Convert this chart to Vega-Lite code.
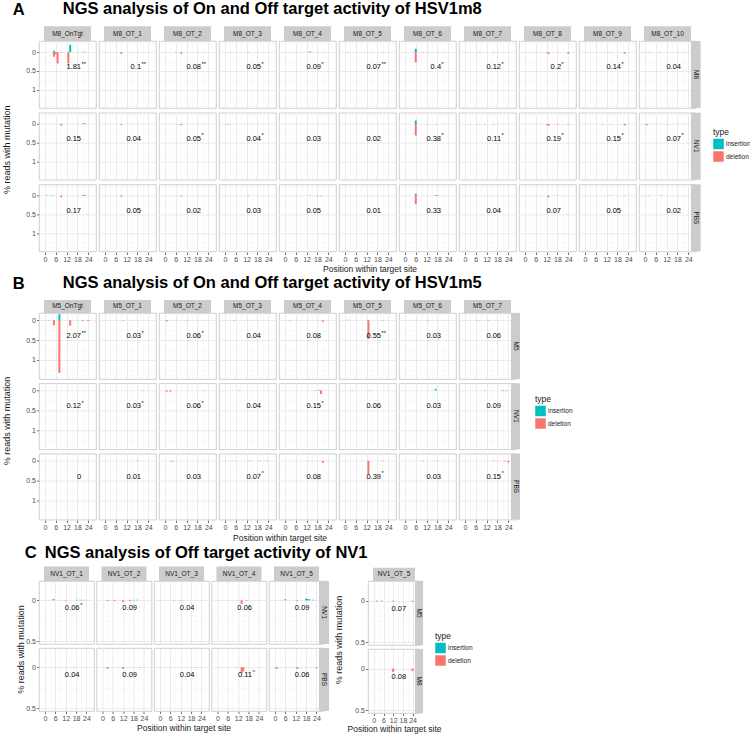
{
"$schema": "https://vega.github.io/schema/vega-lite/v6.json",
"padding": {"left": 2, "top": 1, "right": 4, "bottom": 1},
"datasets": {
"a": [
{"col":"M8_OnTgt","row":"M8","pos":5,"val":0.12,"type":"deletion"},
{"col":"M8_OnTgt","row":"M8","pos":6,"val":0.06,"type":"deletion"},
{"col":"M8_OnTgt","row":"M8","pos":7,"val":0.3,"type":"deletion"},
{"col":"M8_OnTgt","row":"M8","pos":13,"val":0.3,"type":"deletion"},
{"col":"M8_OnTgt","row":"M8","pos":9,"val":0.01,"type":"deletion"},
{"col":"M8_OnTgt","row":"M8","pos":5,"val":-0.04,"type":"insertion"},
{"col":"M8_OnTgt","row":"M8","pos":14,"val":-0.2,"type":"insertion"},
{"col":"M8_OnTgt","row":"M8","pos":21,"val":-0.01,"type":"insertion"},
{"col":"M8_OnTgt","row":"M8","pos":22,"val":-0.01,"type":"insertion"},
{"col":"M8_OT_1","row":"M8","pos":9,"val":0.04,"type":"deletion"},
{"col":"M8_OT_1","row":"M8","pos":14,"val":0.01,"type":"deletion"},
{"col":"M8_OT_2","row":"M8","pos":9,"val":0.04,"type":"deletion"},
{"col":"M8_OT_2","row":"M8","pos":6,"val":-0.01,"type":"insertion"},
{"col":"M8_OT_3","row":"M8","pos":3,"val":0.01,"type":"deletion"},
{"col":"M8_OT_3","row":"M8","pos":13,"val":0.01,"type":"deletion"},
{"col":"M8_OT_4","row":"M8","pos":14,"val":-0.02,"type":"insertion"},
{"col":"M8_OT_4","row":"M8","pos":13,"val":-0.01,"type":"insertion"},
{"col":"M8_OT_5","row":"M8","pos":2,"val":0.01,"type":"deletion"},
{"col":"M8_OT_5","row":"M8","pos":21,"val":0.01,"type":"deletion"},
{"col":"M8_OT_6","row":"M8","pos":6,"val":-0.09,"type":"insertion"},
{"col":"M8_OT_6","row":"M8","pos":6,"val":0.27,"type":"deletion"},
{"col":"M8_OT_6","row":"M8","pos":10,"val":0.01,"type":"deletion"},
{"col":"M8_OT_6","row":"M8","pos":13,"val":0.01,"type":"deletion"},
{"col":"M8_OT_7","row":"M8","pos":8,"val":0.01,"type":"deletion"},
{"col":"M8_OT_7","row":"M8","pos":16,"val":0.01,"type":"deletion"},
{"col":"M8_OT_8","row":"M8","pos":13,"val":0.05,"type":"deletion"},
{"col":"M8_OT_8","row":"M8","pos":24,"val":0.04,"type":"deletion"},
{"col":"M8_OT_8","row":"M8","pos":12,"val":0.01,"type":"deletion"},
{"col":"M8_OT_9","row":"M8","pos":14,"val":0.01,"type":"deletion"},
{"col":"M8_OT_9","row":"M8","pos":22,"val":0.04,"type":"deletion"},
{"col":"M8_OT_10","row":"M8","pos":2,"val":0.01,"type":"deletion"},
{"col":"M8_OT_10","row":"M8","pos":8,"val":0.01,"type":"deletion"},
{"col":"M8_OnTgt","row":"NV1","pos":9,"val":0.04,"type":"deletion"},
{"col":"M8_OnTgt","row":"NV1","pos":21,"val":-0.01,"type":"insertion"},
{"col":"M8_OnTgt","row":"NV1","pos":22,"val":-0.02,"type":"insertion"},
{"col":"M8_OT_1","row":"NV1","pos":9,"val":0.02,"type":"deletion"},
{"col":"M8_OT_2","row":"NV1","pos":9,"val":0.03,"type":"deletion"},
{"col":"M8_OT_2","row":"NV1","pos":7,"val":0.01,"type":"deletion"},
{"col":"M8_OT_3","row":"NV1","pos":1,"val":0.01,"type":"deletion"},
{"col":"M8_OT_3","row":"NV1","pos":2,"val":0.01,"type":"deletion"},
{"col":"M8_OT_5","row":"NV1","pos":5,"val":0.005,"type":"deletion"},
{"col":"M8_OT_6","row":"NV1","pos":6,"val":-0.09,"type":"insertion"},
{"col":"M8_OT_6","row":"NV1","pos":6,"val":0.31,"type":"deletion"},
{"col":"M8_OT_6","row":"NV1","pos":12,"val":0.01,"type":"deletion"},
{"col":"M8_OT_6","row":"NV1","pos":17,"val":0.01,"type":"deletion"},
{"col":"M8_OT_7","row":"NV1","pos":3,"val":0.01,"type":"deletion"},
{"col":"M8_OT_7","row":"NV1","pos":7,"val":0.01,"type":"deletion"},
{"col":"M8_OT_7","row":"NV1","pos":11,"val":0.01,"type":"deletion"},
{"col":"M8_OT_7","row":"NV1","pos":16,"val":0.01,"type":"deletion"},
{"col":"M8_OT_8","row":"NV1","pos":12,"val":0.015,"type":"deletion"},
{"col":"M8_OT_8","row":"NV1","pos":13,"val":0.05,"type":"deletion"},
{"col":"M8_OT_8","row":"NV1","pos":18,"val":0.015,"type":"deletion"},
{"col":"M8_OT_8","row":"NV1","pos":24,"val":0.015,"type":"deletion"},
{"col":"M8_OT_9","row":"NV1","pos":10,"val":0.01,"type":"deletion"},
{"col":"M8_OT_9","row":"NV1","pos":14,"val":0.01,"type":"deletion"},
{"col":"M8_OT_9","row":"NV1","pos":22,"val":0.04,"type":"deletion"},
{"col":"M8_OT_10","row":"NV1","pos":1,"val":0.03,"type":"deletion"},
{"col":"M8_OT_10","row":"NV1","pos":12,"val":0.01,"type":"deletion"},
{"col":"M8_OnTgt","row":"PBS","pos":1,"val":-0.01,"type":"insertion"},
{"col":"M8_OnTgt","row":"PBS","pos":4,"val":-0.01,"type":"insertion"},
{"col":"M8_OnTgt","row":"PBS","pos":9,"val":0.04,"type":"deletion"},
{"col":"M8_OnTgt","row":"PBS","pos":21,"val":-0.015,"type":"insertion"},
{"col":"M8_OnTgt","row":"PBS","pos":22,"val":-0.02,"type":"insertion"},
{"col":"M8_OT_1","row":"PBS","pos":9,"val":0.03,"type":"deletion"},
{"col":"M8_OT_1","row":"PBS","pos":14,"val":0.01,"type":"deletion"},
{"col":"M8_OT_2","row":"PBS","pos":9,"val":0.015,"type":"deletion"},
{"col":"M8_OT_3","row":"PBS","pos":13,"val":0.01,"type":"deletion"},
{"col":"M8_OT_4","row":"PBS","pos":14,"val":-0.01,"type":"insertion"},
{"col":"M8_OT_4","row":"PBS","pos":18,"val":0.015,"type":"deletion"},
{"col":"M8_OT_4","row":"PBS","pos":20,"val":0.015,"type":"deletion"},
{"col":"M8_OT_6","row":"PBS","pos":6,"val":-0.05,"type":"insertion"},
{"col":"M8_OT_6","row":"PBS","pos":6,"val":0.23,"type":"deletion"},
{"col":"M8_OT_6","row":"PBS","pos":17,"val":-0.015,"type":"insertion"},
{"col":"M8_OT_6","row":"PBS","pos":18,"val":-0.015,"type":"insertion"},
{"col":"M8_OT_8","row":"PBS","pos":13,"val":0.045,"type":"deletion"},
{"col":"M8_OT_8","row":"PBS","pos":18,"val":0.01,"type":"deletion"},
{"col":"M8_OT_9","row":"PBS","pos":14,"val":0.01,"type":"deletion"},
{"col":"M8_OT_9","row":"PBS","pos":22,"val":0.01,"type":"deletion"},
{"col":"M8_OT_10","row":"PBS","pos":2,"val":0.01,"type":"deletion"},
{"col":"M8_OT_10","row":"PBS","pos":9,"val":0.01,"type":"deletion"},
{"col":"M8_OnTgt","row":"M8","lab":"1.81","star":"**"},
{"col":"M8_OT_1","row":"M8","lab":"0.1","star":"**"},
{"col":"M8_OT_2","row":"M8","lab":"0.08","star":"**"},
{"col":"M8_OT_3","row":"M8","lab":"0.05","star":"*"},
{"col":"M8_OT_4","row":"M8","lab":"0.09","star":"*"},
{"col":"M8_OT_5","row":"M8","lab":"0.07","star":"**"},
{"col":"M8_OT_6","row":"M8","lab":"0.4","star":"*"},
{"col":"M8_OT_7","row":"M8","lab":"0.12","star":"*"},
{"col":"M8_OT_8","row":"M8","lab":"0.2","star":"*"},
{"col":"M8_OT_9","row":"M8","lab":"0.14","star":"*"},
{"col":"M8_OT_10","row":"M8","lab":"0.04","star":""},
{"col":"M8_OnTgt","row":"NV1","lab":"0.15","star":""},
{"col":"M8_OT_1","row":"NV1","lab":"0.04","star":""},
{"col":"M8_OT_2","row":"NV1","lab":"0.05","star":"*"},
{"col":"M8_OT_3","row":"NV1","lab":"0.04","star":"*"},
{"col":"M8_OT_4","row":"NV1","lab":"0.03","star":""},
{"col":"M8_OT_5","row":"NV1","lab":"0.02","star":""},
{"col":"M8_OT_6","row":"NV1","lab":"0.38","star":"*"},
{"col":"M8_OT_7","row":"NV1","lab":"0.11","star":"*"},
{"col":"M8_OT_8","row":"NV1","lab":"0.19","star":"*"},
{"col":"M8_OT_9","row":"NV1","lab":"0.15","star":"*"},
{"col":"M8_OT_10","row":"NV1","lab":"0.07","star":"*"},
{"col":"M8_OnTgt","row":"PBS","lab":"0.17","star":""},
{"col":"M8_OT_1","row":"PBS","lab":"0.05","star":""},
{"col":"M8_OT_2","row":"PBS","lab":"0.02","star":""},
{"col":"M8_OT_3","row":"PBS","lab":"0.03","star":""},
{"col":"M8_OT_4","row":"PBS","lab":"0.05","star":""},
{"col":"M8_OT_5","row":"PBS","lab":"0.01","star":""},
{"col":"M8_OT_6","row":"PBS","lab":"0.33","star":""},
{"col":"M8_OT_7","row":"PBS","lab":"0.04","star":""},
{"col":"M8_OT_8","row":"PBS","lab":"0.07","star":""},
{"col":"M8_OT_9","row":"PBS","lab":"0.05","star":""},
{"col":"M8_OT_10","row":"PBS","lab":"0.02","star":""}
],
"b": [
{"col":"M5_OnTgt","row":"M5","pos":5,"val":0.13,"type":"deletion"},
{"col":"M5_OnTgt","row":"M5","pos":8,"val":1.33,"type":"deletion"},
{"col":"M5_OnTgt","row":"M5","pos":8,"val":-0.15,"type":"insertion"},
{"col":"M5_OnTgt","row":"M5","pos":14,"val":0.14,"type":"deletion"},
{"col":"M5_OnTgt","row":"M5","pos":21,"val":0.02,"type":"deletion"},
{"col":"M5_OnTgt","row":"M5","pos":24,"val":0.02,"type":"deletion"},
{"col":"M5_OnTgt","row":"M5","pos":2,"val":0.01,"type":"deletion"},
{"col":"M5_OT_1","row":"M5","pos":10,"val":0.01,"type":"deletion"},
{"col":"M5_OT_2","row":"M5","pos":1,"val":0.03,"type":"deletion"},
{"col":"M5_OT_2","row":"M5","pos":12,"val":0.01,"type":"deletion"},
{"col":"M5_OT_3","row":"M5","pos":5,"val":0.01,"type":"deletion"},
{"col":"M5_OT_4","row":"M5","pos":3,"val":0.01,"type":"deletion"},
{"col":"M5_OT_4","row":"M5","pos":21,"val":0.04,"type":"deletion"},
{"col":"M5_OT_5","row":"M5","pos":13,"val":0.47,"type":"deletion"},
{"col":"M5_OT_5","row":"M5","pos":2,"val":-0.01,"type":"insertion"},
{"col":"M5_OT_5","row":"M5","pos":21,"val":0.01,"type":"deletion"},
{"col":"M5_OT_6","row":"M5","pos":13,"val":0.01,"type":"deletion"},
{"col":"M5_OT_7","row":"M5","pos":7,"val":0.01,"type":"deletion"},
{"col":"M5_OT_7","row":"M5","pos":13,"val":0.01,"type":"deletion"},
{"col":"M5_OT_1","row":"NV1","pos":21,"val":0.01,"type":"deletion"},
{"col":"M5_OT_2","row":"NV1","pos":1,"val":0.03,"type":"deletion"},
{"col":"M5_OT_2","row":"NV1","pos":3,"val":0.03,"type":"deletion"},
{"col":"M5_OT_2","row":"NV1","pos":22,"val":0.01,"type":"deletion"},
{"col":"M5_OT_3","row":"NV1","pos":8,"val":0.01,"type":"deletion"},
{"col":"M5_OT_4","row":"NV1","pos":17,"val":0.01,"type":"deletion"},
{"col":"M5_OT_4","row":"NV1","pos":19,"val":-0.015,"type":"insertion"},
{"col":"M5_OT_4","row":"NV1","pos":20,"val":0.09,"type":"deletion"},
{"col":"M5_OT_5","row":"NV1","pos":4,"val":0.01,"type":"deletion"},
{"col":"M5_OT_5","row":"NV1","pos":14,"val":0.01,"type":"deletion"},
{"col":"M5_OT_6","row":"NV1","pos":17,"val":-0.04,"type":"insertion"},
{"col":"M5_OT_7","row":"NV1","pos":11,"val":0.01,"type":"deletion"},
{"col":"M5_OT_7","row":"NV1","pos":21,"val":0.015,"type":"deletion"},
{"col":"M5_OT_7","row":"NV1","pos":23,"val":0.015,"type":"deletion"},
{"col":"M5_OT_1","row":"PBS","pos":18,"val":0.01,"type":"deletion"},
{"col":"M5_OT_2","row":"PBS","pos":4,"val":0.02,"type":"deletion"},
{"col":"M5_OT_3","row":"PBS","pos":4,"val":0.01,"type":"deletion"},
{"col":"M5_OT_3","row":"PBS","pos":14,"val":0.01,"type":"deletion"},
{"col":"M5_OT_3","row":"PBS","pos":19,"val":0.01,"type":"deletion"},
{"col":"M5_OT_3","row":"PBS","pos":23,"val":0.01,"type":"deletion"},
{"col":"M5_OT_4","row":"PBS","pos":21,"val":0.05,"type":"deletion"},
{"col":"M5_OT_4","row":"PBS","pos":15,"val":0.01,"type":"deletion"},
{"col":"M5_OT_5","row":"PBS","pos":13,"val":0.34,"type":"deletion"},
{"col":"M5_OT_5","row":"PBS","pos":21,"val":0.01,"type":"deletion"},
{"col":"M5_OT_6","row":"PBS","pos":10,"val":0.01,"type":"deletion"},
{"col":"M5_OT_6","row":"PBS","pos":18,"val":0.01,"type":"deletion"},
{"col":"M5_OT_7","row":"PBS","pos":16,"val":-0.01,"type":"insertion"},
{"col":"M5_OT_7","row":"PBS","pos":22,"val":0.015,"type":"deletion"},
{"col":"M5_OT_7","row":"PBS","pos":24,"val":0.04,"type":"deletion"},
{"col":"M5_OnTgt","row":"M5","lab":"2.07","star":"**"},
{"col":"M5_OT_1","row":"M5","lab":"0.03","star":"*"},
{"col":"M5_OT_2","row":"M5","lab":"0.06","star":"*"},
{"col":"M5_OT_3","row":"M5","lab":"0.04","star":""},
{"col":"M5_OT_4","row":"M5","lab":"0.08","star":""},
{"col":"M5_OT_5","row":"M5","lab":"0.55","star":"**"},
{"col":"M5_OT_6","row":"M5","lab":"0.03","star":""},
{"col":"M5_OT_7","row":"M5","lab":"0.06","star":""},
{"col":"M5_OnTgt","row":"NV1","lab":"0.12","star":"*"},
{"col":"M5_OT_1","row":"NV1","lab":"0.03","star":"*"},
{"col":"M5_OT_2","row":"NV1","lab":"0.06","star":"*"},
{"col":"M5_OT_3","row":"NV1","lab":"0.04","star":""},
{"col":"M5_OT_4","row":"NV1","lab":"0.15","star":"*"},
{"col":"M5_OT_5","row":"NV1","lab":"0.06","star":""},
{"col":"M5_OT_6","row":"NV1","lab":"0.03","star":""},
{"col":"M5_OT_7","row":"NV1","lab":"0.09","star":""},
{"col":"M5_OnTgt","row":"PBS","lab":"0","star":""},
{"col":"M5_OT_1","row":"PBS","lab":"0.01","star":""},
{"col":"M5_OT_2","row":"PBS","lab":"0.03","star":""},
{"col":"M5_OT_3","row":"PBS","lab":"0.07","star":"^"},
{"col":"M5_OT_4","row":"PBS","lab":"0.08","star":""},
{"col":"M5_OT_5","row":"PBS","lab":"0.39","star":"*"},
{"col":"M5_OT_6","row":"PBS","lab":"0.03","star":""},
{"col":"M5_OT_7","row":"PBS","lab":"0.15","star":"^"}
],
"cl": [
{"col":"NV1_OT_1","row":"NV1","pos":5,"val":-0.015,"type":"insertion"},
{"col":"NV1_OT_1","row":"NV1","pos":12,"val":0.005,"type":"deletion"},
{"col":"NV1_OT_1","row":"NV1","pos":19,"val":-0.006,"type":"insertion"},
{"col":"NV1_OT_1","row":"NV1","pos":21,"val":-0.006,"type":"insertion"},
{"col":"NV1_OT_1","row":"NV1","pos":23,"val":-0.006,"type":"insertion"},
{"col":"NV1_OT_2","row":"NV1","pos":3,"val":0.01,"type":"deletion"},
{"col":"NV1_OT_2","row":"NV1","pos":7,"val":0.01,"type":"deletion"},
{"col":"NV1_OT_2","row":"NV1","pos":12,"val":0.02,"type":"deletion"},
{"col":"NV1_OT_2","row":"NV1","pos":16,"val":0.01,"type":"deletion"},
{"col":"NV1_OT_2","row":"NV1","pos":18,"val":-0.006,"type":"insertion"},
{"col":"NV1_OT_2","row":"NV1","pos":20,"val":-0.006,"type":"insertion"},
{"col":"NV1_OT_3","row":"NV1","pos":8,"val":0.004,"type":"deletion"},
{"col":"NV1_OT_3","row":"NV1","pos":12,"val":-0.004,"type":"insertion"},
{"col":"NV1_OT_4","row":"NV1","pos":14,"val":0.045,"type":"deletion"},
{"col":"NV1_OT_4","row":"NV1","pos":17,"val":0.005,"type":"deletion"},
{"col":"NV1_OT_5","row":"NV1","pos":6,"val":-0.012,"type":"insertion"},
{"col":"NV1_OT_5","row":"NV1","pos":13,"val":0.01,"type":"deletion"},
{"col":"NV1_OT_5","row":"NV1","pos":18,"val":-0.02,"type":"insertion"},
{"col":"NV1_OT_5","row":"NV1","pos":19,"val":-0.015,"type":"insertion"},
{"col":"NV1_OT_5","row":"NV1","pos":20,"val":-0.012,"type":"insertion"},
{"col":"NV1_OT_5","row":"NV1","pos":22,"val":-0.006,"type":"insertion"},
{"col":"NV1_OT_1","row":"PBS","pos":17,"val":0.005,"type":"deletion"},
{"col":"NV1_OT_2","row":"PBS","pos":3,"val":0.02,"type":"deletion"},
{"col":"NV1_OT_2","row":"PBS","pos":12,"val":0.02,"type":"deletion"},
{"col":"NV1_OT_2","row":"PBS","pos":22,"val":0.006,"type":"deletion"},
{"col":"NV1_OT_3","row":"PBS","pos":21,"val":0.005,"type":"deletion"},
{"col":"NV1_OT_4","row":"PBS","pos":14,"val":0.07,"type":"deletion"},
{"col":"NV1_OT_4","row":"PBS","pos":15,"val":0.05,"type":"deletion"},
{"col":"NV1_OT_4","row":"PBS","pos":11,"val":0.006,"type":"deletion"},
{"col":"NV1_OT_5","row":"PBS","pos":1,"val":0.02,"type":"deletion"},
{"col":"NV1_OT_5","row":"PBS","pos":13,"val":0.02,"type":"deletion"},
{"col":"NV1_OT_5","row":"PBS","pos":24,"val":0.012,"type":"deletion"},
{"col":"NV1_OT_1","row":"NV1","lab":"0.06","star":"^"},
{"col":"NV1_OT_2","row":"NV1","lab":"0.09","star":""},
{"col":"NV1_OT_3","row":"NV1","lab":"0.04","star":""},
{"col":"NV1_OT_4","row":"NV1","lab":"0.06","star":""},
{"col":"NV1_OT_5","row":"NV1","lab":"0.09","star":""},
{"col":"NV1_OT_1","row":"PBS","lab":"0.04","star":""},
{"col":"NV1_OT_2","row":"PBS","lab":"0.09","star":""},
{"col":"NV1_OT_3","row":"PBS","lab":"0.04","star":""},
{"col":"NV1_OT_4","row":"PBS","lab":"0.11","star":"^"},
{"col":"NV1_OT_5","row":"PBS","lab":"0.06","star":""}
],
"cr": [
{"col":"NV1_OT_5","row":"M5","pos":2,"val":0.01,"type":"deletion"},
{"col":"NV1_OT_5","row":"M5","pos":5,"val":0.01,"type":"deletion"},
{"col":"NV1_OT_5","row":"M5","pos":12,"val":0.01,"type":"deletion"},
{"col":"NV1_OT_5","row":"M5","pos":24,"val":0.012,"type":"deletion"},
{"col":"NV1_OT_5","row":"M8","pos":12,"val":0.04,"type":"deletion"},
{"col":"NV1_OT_5","row":"M8","pos":24,"val":0.03,"type":"deletion"},
{"col":"NV1_OT_5","row":"M5","lab":"0.07","star":""},
{"col":"NV1_OT_5","row":"M8","lab":"0.08","star":""}
]
},
"vconcat": [
{
"title": {"text": "A", "anchor": "start", "dx": 10, "offset": -17},
"vconcat": [
{
"title": {"text": "NGS analysis of On and Off target activity of HSV1m8", "anchor": "start", "dx": 60, "offset": 8},
"vconcat": [
{
"title": {"text": "% reads with mutation", "orient": "left", "anchor": "middle", "offset": 14, "fontSize": 9, "fontWeight": "normal", "color": "#1A1A1A"},
"vconcat": [
{
"data": {"name": "a"},
"bounds": "flush",
"spacing": {"row": 4.7, "column": 3},
"facet": {
"row": {"field": "row", "type": "nominal", "sort": ["M8","NV1","PBS"], "header": {"title": null, "labels": false}},
"column": {"field": "col", "type": "nominal", "sort": ["M8_OnTgt","M8_OT_1","M8_OT_2","M8_OT_3","M8_OT_4","M8_OT_5","M8_OT_6","M8_OT_7","M8_OT_8","M8_OT_9","M8_OT_10"], "header": {"title": "Position within target site", "labels": false, "titleOrient": "bottom", "titlePadding": -8, "titleFont": "Liberation Sans Narrow, Liberation Sans", "titleFontSize": 8.5}}
},
"spec": {
"width": 57, "height": 67,
"layer": [
{"transform": [{"filter": "isValid(datum.lab) && datum.row == 'M8'"}],
 "mark": {"type": "rect", "fill": "#CCCCCC"},
 "encoding": {"x": {"datum": -0.5, "scale": {"domain": [-0.5, 25.5], "nice": false, "zero": false}}, "x2": {"datum": 25.5}, "y": {"datum": -0.3, "scale": {"domain": [-0.3, 1.49], "reverse": true, "nice": false, "zero": false}}, "y2": {"datum": -0.693}}},
{"transform": [{"filter": "isValid(datum.lab) && datum.row == 'M8'"}],
 "mark": {"type": "text", "fontSize": 6.5, "color": "#1A1A1A", "baseline": "middle"},
 "encoding": {"x": {"datum": 12.5, "scale": {"domain": [-0.5, 25.5], "nice": false, "zero": false}}, "y": {"datum": -0.4965, "scale": {"domain": [-0.3, 1.49], "reverse": true, "nice": false, "zero": false}}, "text": {"field": "col"}}},
{"transform": [{"filter": "isValid(datum.lab) && datum.col == 'M8_OT_10'"}],
 "mark": {"type": "rect", "fill": "#CCCCCC"},
 "encoding": {"x": {"datum": 25.5, "scale": {"domain": [-0.5, 25.5], "nice": false, "zero": false}}, "x2": {"datum": 30.84}, "y": {"datum": -0.3, "scale": {"domain": [-0.3, 1.49], "reverse": true, "nice": false, "zero": false}}, "y2": {"datum": 1.49}}},
{"transform": [{"filter": "isValid(datum.lab) && datum.col == 'M8_OT_10'"}],
 "mark": {"type": "text", "fontSize": 6.5, "color": "#1A1A1A", "baseline": "middle", "angle": 90},
 "encoding": {"x": {"datum": 28.17, "scale": {"domain": [-0.5, 25.5], "nice": false, "zero": false}}, "y": {"datum": 0.595, "scale": {"domain": [-0.3, 1.49], "reverse": true, "nice": false, "zero": false}}, "text": {"field": "row"}}},
{"transform": [{"filter": "isValid(datum.pos)"}],
 "mark": {"type": "bar", "size": 2},
 "encoding": {
  "x": {"field": "pos", "type": "quantitative", "scale": {"domain": [-0.5, 25.5], "nice": false, "zero": false}, "axis": {"title": null, "tickCount": 20, "labelOverlap": false, "labelFlush": false, "labelBound": false, "values": [0,3,6,9,12,15,18,21,24], "labelExpr": "datum.value % 6 == 0 ? datum.label : ''", "tickOpacity": {"condition": {"test": "datum.value % 6 != 0", "value": 0}, "value": 1}, "gridColor": {"condition": {"test": "datum.value % 6 != 0", "value": "#F2F2F2"}, "value": "#E6E6E6"}, "gridWidth": {"condition": {"test": "datum.value % 6 != 0", "value": 0.5}, "value": 0.8}}},
  "y": {"field": "val", "type": "quantitative", "scale": {"domain": [-0.3, 1.49], "reverse": true, "nice": false, "zero": false}, "axis": {"title": null, "tickCount": 20, "labelOverlap": false, "labelFlush": false, "labelBound": false, "values": [-0.25,0,0.25,0.5,0.75,1,1.25], "format": "~g", "labelExpr": "datum.value % 0.5 == 0 ? datum.label : ''", "tickOpacity": {"condition": {"test": "datum.value % 0.5 != 0", "value": 0}, "value": 1}, "gridColor": {"condition": {"test": "datum.value % 0.5 != 0", "value": "#F2F2F2"}, "value": "#E6E6E6"}, "gridWidth": {"condition": {"test": "datum.value % 0.5 != 0", "value": 0.5}, "value": 0.8}}},
  "y2": {"datum": 0},
  "color": {"field": "type", "type": "nominal", "scale": {"domain": ["insertion","deletion"], "range": ["#00BFC4","#F8766D"]}, "legend": {"title": "type", "orient": "none", "legendX": 674, "legendY": 87}}
 }},
{"transform": [{"filter": "isValid(datum.lab)"}],
 "mark": {"type": "text", "align": "right", "baseline": "middle", "fontSize": 7.5, "color": "#000000"},
 "encoding": {"x": {"datum": 20, "scale": {"domain": [-0.5, 25.5], "nice": false, "zero": false}}, "y": {"datum": 0.4, "scale": {"domain": [-0.3, 1.49], "reverse": true, "nice": false, "zero": false}}, "text": {"field": "lab"}}},
{"transform": [{"filter": "isValid(datum.lab)"}],
 "mark": {"type": "text", "align": "left", "baseline": "middle", "fontSize": 5.5, "dy": -3.5, "dx": 0.5, "color": "#000000"},
 "encoding": {"x": {"datum": 20, "scale": {"domain": [-0.5, 25.5], "nice": false, "zero": false}}, "y": {"datum": 0.4, "scale": {"domain": [-0.3, 1.49], "reverse": true, "nice": false, "zero": false}}, "text": {"field": "star"}}}
]
}
}
]
}
]
}
]
},
{
"title": {"text": "B", "anchor": "start", "dx": 10, "offset": -17},
"vconcat": [
{
"title": {"text": "NGS analysis of On and Off target activity of HSV1m5", "anchor": "start", "dx": 60, "offset": 8},
"vconcat": [
{
"title": {"text": "% reads with mutation", "orient": "left", "anchor": "middle", "offset": 14, "fontSize": 9, "fontWeight": "normal", "color": "#1A1A1A"},
"vconcat": [
{
"data": {"name": "b"},
"bounds": "flush",
"spacing": {"row": 4.3, "column": 3},
"facet": {
"row": {"field": "row", "type": "nominal", "sort": ["M5","NV1","PBS"], "header": {"title": null, "labels": false}},
"column": {"field": "col", "type": "nominal", "sort": ["M5_OnTgt","M5_OT_1","M5_OT_2","M5_OT_3","M5_OT_4","M5_OT_5","M5_OT_6","M5_OT_7"], "header": {"title": "Position within target site", "labels": false, "titleOrient": "bottom", "titlePadding": -7, "titleFont": "Liberation Sans Narrow, Liberation Sans", "titleFontSize": 8.5}}
},
"spec": {
"width": 57, "height": 66,
"layer": [
{"transform": [{"filter": "isValid(datum.lab) && datum.row == 'M5'"}],
 "mark": {"type": "rect", "fill": "#CCCCCC"},
 "encoding": {"x": {"datum": -0.5, "scale": {"domain": [-0.5, 25.5], "nice": false, "zero": false}}, "x2": {"datum": 25.5}, "y": {"datum": -0.18, "scale": {"domain": [-0.18, 1.48], "reverse": true, "nice": false, "zero": false}}, "y2": {"datum": -0.507}}},
{"transform": [{"filter": "isValid(datum.lab) && datum.row == 'M5'"}],
 "mark": {"type": "text", "fontSize": 6.5, "color": "#1A1A1A", "baseline": "middle"},
 "encoding": {"x": {"datum": 12.5, "scale": {"domain": [-0.5, 25.5], "nice": false, "zero": false}}, "y": {"datum": -0.3435, "scale": {"domain": [-0.18, 1.48], "reverse": true, "nice": false, "zero": false}}, "text": {"field": "col"}}},
{"transform": [{"filter": "isValid(datum.lab) && datum.col == 'M5_OT_7'"}],
 "mark": {"type": "rect", "fill": "#CCCCCC"},
 "encoding": {"x": {"datum": 25.5, "scale": {"domain": [-0.5, 25.5], "nice": false, "zero": false}}, "x2": {"datum": 30.5}, "y": {"datum": -0.18, "scale": {"domain": [-0.18, 1.48], "reverse": true, "nice": false, "zero": false}}, "y2": {"datum": 1.48}}},
{"transform": [{"filter": "isValid(datum.lab) && datum.col == 'M5_OT_7'"}],
 "mark": {"type": "text", "fontSize": 6.5, "color": "#1A1A1A", "baseline": "middle", "angle": 90},
 "encoding": {"x": {"datum": 28, "scale": {"domain": [-0.5, 25.5], "nice": false, "zero": false}}, "y": {"datum": 0.65, "scale": {"domain": [-0.18, 1.48], "reverse": true, "nice": false, "zero": false}}, "text": {"field": "row"}}},
{"transform": [{"filter": "isValid(datum.pos)"}],
 "mark": {"type": "bar", "size": 2},
 "encoding": {
  "x": {"field": "pos", "type": "quantitative", "scale": {"domain": [-0.5, 25.5], "nice": false, "zero": false}, "axis": {"title": null, "tickCount": 20, "labelOverlap": false, "labelFlush": false, "labelBound": false, "values": [0,3,6,9,12,15,18,21,24], "labelExpr": "datum.value % 6 == 0 ? datum.label : ''", "tickOpacity": {"condition": {"test": "datum.value % 6 != 0", "value": 0}, "value": 1}, "gridColor": {"condition": {"test": "datum.value % 6 != 0", "value": "#F2F2F2"}, "value": "#E6E6E6"}, "gridWidth": {"condition": {"test": "datum.value % 6 != 0", "value": 0.5}, "value": 0.8}}},
  "y": {"field": "val", "type": "quantitative", "scale": {"domain": [-0.18, 1.48], "reverse": true, "nice": false, "zero": false}, "axis": {"title": null, "tickCount": 20, "labelOverlap": false, "labelFlush": false, "labelBound": false, "values": [0,0.25,0.5,0.75,1,1.25], "format": "~g", "labelExpr": "datum.value % 0.5 == 0 ? datum.label : ''", "tickOpacity": {"condition": {"test": "datum.value % 0.5 != 0", "value": 0}, "value": 1}, "gridColor": {"condition": {"test": "datum.value % 0.5 != 0", "value": "#F2F2F2"}, "value": "#E6E6E6"}, "gridWidth": {"condition": {"test": "datum.value % 0.5 != 0", "value": 0.5}, "value": 0.8}}},
  "y2": {"datum": 0},
  "color": {"field": "type", "type": "nominal", "scale": {"domain": ["insertion","deletion"], "range": ["#00BFC4","#F8766D"]}, "legend": {"title": "type", "orient": "none", "legendX": 496, "legendY": 82}}
 }},
{"transform": [{"filter": "isValid(datum.lab)"}],
 "mark": {"type": "text", "align": "right", "baseline": "middle", "fontSize": 7.5, "color": "#000000"},
 "encoding": {"x": {"datum": 20, "scale": {"domain": [-0.5, 25.5], "nice": false, "zero": false}}, "y": {"datum": 0.4, "scale": {"domain": [-0.18, 1.48], "reverse": true, "nice": false, "zero": false}}, "text": {"field": "lab"}}},
{"transform": [{"filter": "isValid(datum.lab)"}],
 "mark": {"type": "text", "align": "left", "baseline": "middle", "fontSize": 5.5, "dy": -3.5, "dx": 0.5, "color": "#000000"},
 "encoding": {"x": {"datum": 20, "scale": {"domain": [-0.5, 25.5], "nice": false, "zero": false}}, "y": {"datum": 0.4, "scale": {"domain": [-0.18, 1.48], "reverse": true, "nice": false, "zero": false}}, "text": {"field": "star"}}}
]
}
}
]
}
]
}
]
},
{
"title": {"text": "C", "anchor": "start", "dx": 8, "offset": -17},
"vconcat": [
{
"title": {"text": "NGS analysis of Off target activity of NV1", "anchor": "start", "dx": 28, "offset": 5},
"vconcat": [
{
"title": {"text": "% reads with mutation", "orient": "left", "anchor": "middle", "offset": 0, "fontSize": 9, "fontWeight": "normal", "color": "#1A1A1A"},
"vconcat": [
{
"spacing": 4,
"resolve": {"scale": {"color": "independent"}, "legend": {"color": "independent"}},
"hconcat": [
{
"data": {"name": "cl"},
"bounds": "flush",
"spacing": {"row": 4, "column": 2.5},
"facet": {
"row": {"field": "row", "type": "nominal", "sort": ["NV1","PBS"], "header": {"title": null, "labels": false}},
"column": {"field": "col", "type": "nominal", "sort": ["NV1_OT_1","NV1_OT_2","NV1_OT_3","NV1_OT_4","NV1_OT_5"], "header": {"title": "Position within target site", "labels": false, "titleOrient": "bottom", "titlePadding": -8, "titleFont": "Liberation Sans Narrow, Liberation Sans", "titleFontSize": 8.5}}
},
"spec": {
"width": 55, "height": 63,
"layer": [
{"transform": [{"filter": "isValid(datum.lab) && datum.row == 'NV1'"}],
 "mark": {"type": "rect", "fill": "#CCCCCC"},
 "encoding": {"x": {"datum": -0.5, "scale": {"domain": [-0.5, 25.5], "nice": false, "zero": false}}, "x2": {"datum": 25.5}, "y": {"datum": -0.235, "scale": {"domain": [-0.235, 0.533], "reverse": true, "nice": false, "zero": false}}, "y2": {"datum": -0.412}}},
{"transform": [{"filter": "isValid(datum.lab) && datum.row == 'NV1'"}],
 "mark": {"type": "text", "fontSize": 6.5, "color": "#1A1A1A", "baseline": "middle"},
 "encoding": {"x": {"datum": 12.5, "scale": {"domain": [-0.5, 25.5], "nice": false, "zero": false}}, "y": {"datum": -0.3235, "scale": {"domain": [-0.235, 0.533], "reverse": true, "nice": false, "zero": false}}, "text": {"field": "col"}}},
{"transform": [{"filter": "isValid(datum.lab) && datum.col == 'NV1_OT_5'"}],
 "mark": {"type": "rect", "fill": "#CCCCCC"},
 "encoding": {"x": {"datum": 25.5, "scale": {"domain": [-0.5, 25.5], "nice": false, "zero": false}}, "x2": {"datum": 31.3}, "y": {"datum": -0.235, "scale": {"domain": [-0.235, 0.533], "reverse": true, "nice": false, "zero": false}}, "y2": {"datum": 0.533}}},
{"transform": [{"filter": "isValid(datum.lab) && datum.col == 'NV1_OT_5'"}],
 "mark": {"type": "text", "fontSize": 6.5, "color": "#1A1A1A", "baseline": "middle", "angle": 90},
 "encoding": {"x": {"datum": 28.4, "scale": {"domain": [-0.5, 25.5], "nice": false, "zero": false}}, "y": {"datum": 0.149, "scale": {"domain": [-0.235, 0.533], "reverse": true, "nice": false, "zero": false}}, "text": {"field": "row"}}},
{"transform": [{"filter": "isValid(datum.pos)"}],
 "mark": {"type": "bar", "size": 2},
 "encoding": {
  "x": {"field": "pos", "type": "quantitative", "scale": {"domain": [-0.5, 25.5], "nice": false, "zero": false}, "axis": {"title": null, "tickCount": 20, "labelOverlap": false, "labelFlush": false, "labelBound": false, "values": [0,3,6,9,12,15,18,21,24], "labelExpr": "datum.value % 6 == 0 ? datum.label : ''", "tickOpacity": {"condition": {"test": "datum.value % 6 != 0", "value": 0}, "value": 1}, "gridColor": {"condition": {"test": "datum.value % 6 != 0", "value": "#F2F2F2"}, "value": "#E6E6E6"}, "gridWidth": {"condition": {"test": "datum.value % 6 != 0", "value": 0.5}, "value": 0.8}}},
  "y": {"field": "val", "type": "quantitative", "scale": {"domain": [-0.235, 0.533], "reverse": true, "nice": false, "zero": false}, "axis": {"title": null, "tickCount": 20, "labelOverlap": false, "labelFlush": false, "labelBound": false, "values": [0,0.25,0.5], "format": "~g", "labelExpr": "datum.value % 0.5 == 0 ? datum.label : ''", "tickOpacity": {"condition": {"test": "datum.value % 0.5 != 0", "value": 0}, "value": 1}, "gridColor": {"condition": {"test": "datum.value % 0.5 != 0", "value": "#F2F2F2"}, "value": "#E6E6E6"}, "gridWidth": {"condition": {"test": "datum.value % 0.5 != 0", "value": 0.5}, "value": 0.8}}},
  "y2": {"datum": 0},
  "color": {"field": "type", "type": "nominal", "scale": {"domain": ["insertion","deletion"], "range": ["#00BFC4","#F8766D"]}, "legend": null}
 }},
{"transform": [{"filter": "isValid(datum.lab)"}],
 "mark": {"type": "text", "align": "right", "baseline": "middle", "fontSize": 7.5, "color": "#000000"},
 "encoding": {"x": {"datum": 20, "scale": {"domain": [-0.5, 25.5], "nice": false, "zero": false}}, "y": {"datum": 0.1, "scale": {"domain": [-0.235, 0.533], "reverse": true, "nice": false, "zero": false}}, "text": {"field": "lab"}}},
{"transform": [{"filter": "isValid(datum.lab)"}],
 "mark": {"type": "text", "align": "left", "baseline": "middle", "fontSize": 5.5, "dy": -3.5, "dx": 0.5, "color": "#000000"},
 "encoding": {"x": {"datum": 20, "scale": {"domain": [-0.5, 25.5], "nice": false, "zero": false}}, "y": {"datum": 0.1, "scale": {"domain": [-0.235, 0.533], "reverse": true, "nice": false, "zero": false}}, "text": {"field": "star"}}}
]
}
},
{
"data": {"name": "cr"},
"bounds": "flush",
"spacing": {"row": 4, "column": 2.5},
"facet": {
"row": {"field": "row", "type": "nominal", "sort": ["M5","M8"], "header": {"title": "% reads with mutation", "labels": false, "titleOrient": "left", "titlePadding": 0, "titleFont": "Liberation Sans", "titleFontSize": 9}},
"column": {"field": "col", "type": "nominal", "header": {"title": null, "labels": false}}
},
"spec": {
"width": 52, "height": 64,
"layer": [
{"transform": [{"filter": "isValid(datum.lab) && datum.row == 'M5'"}],
 "mark": {"type": "rect", "fill": "#CCCCCC"},
 "encoding": {"x": {"datum": -0.5, "scale": {"domain": [-0.5, 25.5], "nice": false, "zero": false}}, "x2": {"datum": 25.5}, "y": {"datum": -0.235, "scale": {"domain": [-0.235, 0.533], "reverse": true, "nice": false, "zero": false}}, "y2": {"datum": -0.395}}},
{"transform": [{"filter": "isValid(datum.lab) && datum.row == 'M5'"}],
 "mark": {"type": "text", "fontSize": 6.5, "color": "#1A1A1A", "baseline": "middle"},
 "encoding": {"x": {"datum": 12.5, "scale": {"domain": [-0.5, 25.5], "nice": false, "zero": false}}, "y": {"datum": -0.315, "scale": {"domain": [-0.235, 0.533], "reverse": true, "nice": false, "zero": false}}, "text": {"field": "col"}}},
{"transform": [{"filter": "isValid(datum.lab)"}],
 "mark": {"type": "rect", "fill": "#CCCCCC"},
 "encoding": {"x": {"datum": 25.5, "scale": {"domain": [-0.5, 25.5], "nice": false, "zero": false}}, "x2": {"datum": 30.5}, "y": {"datum": -0.235, "scale": {"domain": [-0.235, 0.533], "reverse": true, "nice": false, "zero": false}}, "y2": {"datum": 0.533}}},
{"transform": [{"filter": "isValid(datum.lab)"}],
 "mark": {"type": "text", "fontSize": 6.5, "color": "#1A1A1A", "baseline": "middle", "angle": 90},
 "encoding": {"x": {"datum": 28, "scale": {"domain": [-0.5, 25.5], "nice": false, "zero": false}}, "y": {"datum": 0.149, "scale": {"domain": [-0.235, 0.533], "reverse": true, "nice": false, "zero": false}}, "text": {"field": "row"}}},
{"transform": [{"filter": "isValid(datum.pos)"}],
 "mark": {"type": "bar", "size": 2},
 "encoding": {
  "x": {"field": "pos", "type": "quantitative", "scale": {"domain": [-0.5, 25.5], "nice": false, "zero": false}, "axis": {"title": "Position within target site", "titleFont": "Liberation Sans Narrow, Liberation Sans", "titleFontSize": 8.5, "titleFontWeight": "normal", "titleColor": "#1A1A1A", "titlePadding": 1, "tickCount": 20, "labelOverlap": false, "labelFlush": false, "labelBound": false, "values": [0,3,6,9,12,15,18,21,24], "labelExpr": "datum.value % 6 == 0 ? datum.label : ''", "tickOpacity": {"condition": {"test": "datum.value % 6 != 0", "value": 0}, "value": 1}, "gridColor": {"condition": {"test": "datum.value % 6 != 0", "value": "#F2F2F2"}, "value": "#E6E6E6"}, "gridWidth": {"condition": {"test": "datum.value % 6 != 0", "value": 0.5}, "value": 0.8}}},
  "y": {"field": "val", "type": "quantitative", "scale": {"domain": [-0.235, 0.533], "reverse": true, "nice": false, "zero": false}, "axis": {"title": null, "tickCount": 20, "labelOverlap": false, "labelFlush": false, "labelBound": false, "values": [0,0.25,0.5], "format": "~g", "labelExpr": "datum.value % 0.5 == 0 ? datum.label : ''", "tickOpacity": {"condition": {"test": "datum.value % 0.5 != 0", "value": 0}, "value": 1}, "gridColor": {"condition": {"test": "datum.value % 0.5 != 0", "value": "#F2F2F2"}, "value": "#E6E6E6"}, "gridWidth": {"condition": {"test": "datum.value % 0.5 != 0", "value": 0.5}, "value": 0.8}}},
  "y2": {"datum": 0},
  "color": {"field": "type", "type": "nominal", "scale": {"domain": ["insertion","deletion"], "range": ["#00BFC4","#F8766D"]}, "legend": {"title": "type", "orient": "none", "legendX": 67, "legendY": 51}}
 }},
{"transform": [{"filter": "isValid(datum.lab)"}],
 "mark": {"type": "text", "align": "right", "baseline": "middle", "fontSize": 7.5, "color": "#000000"},
 "encoding": {"x": {"datum": 20, "scale": {"domain": [-0.5, 25.5], "nice": false, "zero": false}}, "y": {"datum": 0.1, "scale": {"domain": [-0.235, 0.533], "reverse": true, "nice": false, "zero": false}}, "text": {"field": "lab"}}}
]
}
}
]
}
]
}
]
}
]
}
],
"spacing": 1,
"resolve": {"scale": {"color": "independent"}, "legend": {"color": "independent"}},
"config": {
"font": "Liberation Sans",
"view": {"stroke": "#C4C4C4", "strokeWidth": 0.8},
"axis": {"domain": false, "labelFont": "Liberation Sans Narrow, Liberation Sans", "labelFontSize": 7, "labelColor": "#4D4D4D", "tickColor": "#333333", "tickSize": 2.5, "tickWidth": 0.7, "labelPadding": 1, "grid": true},
"header": {"titleFontWeight": "normal", "titleColor": "#1A1A1A"},
"title": {"fontSize": 16.5, "fontWeight": "bold", "font": "Liberation Sans", "color": "#000000"},
"text": {"font": "Liberation Sans Narrow, Liberation Sans"},
"legend": {"titleFont": "Liberation Sans Narrow, Liberation Sans", "titleFontSize": 8.5, "titleFontWeight": "normal", "titleColor": "#1A1A1A", "labelFont": "Liberation Sans Narrow, Liberation Sans", "labelFontSize": 6.5, "labelColor": "#1A1A1A", "symbolType": "square", "symbolSize": 110, "symbolStrokeWidth": 0, "symbolOpacity": 1, "rowPadding": 1.5, "titlePadding": 2, "labelOffset": 2, "padding": 0}
}
}
